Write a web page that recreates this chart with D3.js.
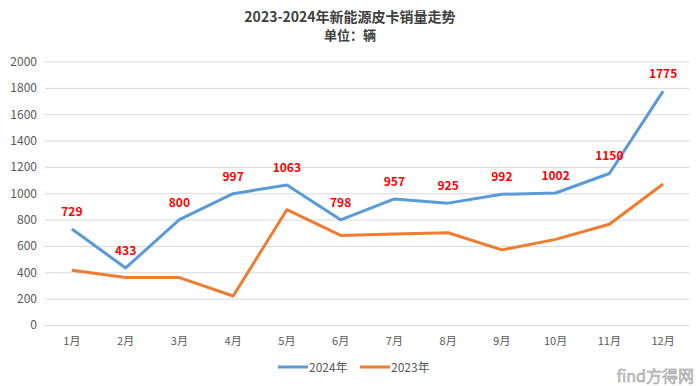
<!DOCTYPE html>
<html>
<head>
<meta charset="utf-8">
<script src="https://cdn.jsdelivr.net/npm/d3@7"></script>
<style>
  body { margin: 0; background: #fff; }
  svg text { font-family: "Noto Sans CJK SC", "Noto Sans", sans-serif; }
</style>
</head>
<body>
<svg id="chart"></svg>
<script>
var months = ["1月", "2月", "3月", "4月", "5月", "6月", "7月", "8月", "9月", "10月", "11月", "12月"];
var sales2024 = [729, 433, 800, 997, 1063, 798, 957, 925, 992, 1002, 1150, 1775];
var sales2023 = [415, 360, 360, 220, 875, 680, 690, 700, 570, 650, 765, 1070];
var yTicks = [0, 200, 400, 600, 800, 1000, 1200, 1400, 1600, 1800, 2000];
var seriesNames = ["2024年", "2023年"];

function drawChart() {
    var width = 700, height = 386;
    var margin = {top: 61.5, right: 10, bottom: 61, left: 45};
    var colors = ["#5B9BD5", "#ED7D31"];

    var svg = d3.select("#chart")
        .attr("width", width)
        .attr("height", height);

    var x = d3.scaleBand()
        .domain(months)
        .range([margin.left, width - margin.right]);

    var y = d3.scaleLinear()
        .domain([0, 2000])
        .range([height - margin.bottom, margin.top]);

    // title
    svg.append("text")
        .attr("x", 350).attr("y", 22)
        .attr("text-anchor", "middle")
        .style("font-size", "14px").style("font-weight", "bold")
        .attr("fill", "#404040")
        .text("2023-2024年新能源皮卡销量走势");
    svg.append("text")
        .attr("x", 350).attr("y", 40)
        .attr("text-anchor", "middle")
        .style("font-size", "13px").style("font-weight", "bold")
        .attr("fill", "#404040")
        .text("单位：辆");

    // grid + y axis
    var yAxis = svg.append("g")
        .attr("transform", "translate(" + margin.left + ",0)")
        .call(d3.axisLeft(y).tickValues(yTicks).tickFormat(d3.format("d"))
            .tickSize(-(width - margin.left - margin.right)).tickPadding(8));
    yAxis.select(".domain").remove();
    yAxis.selectAll(".tick line").attr("stroke", "#d9d9d9");
    yAxis.selectAll(".tick text").attr("fill", "#595959").style("font-size", "12px");

    // x axis
    var xAxis = svg.append("g")
        .attr("transform", "translate(0," + (height - margin.bottom) + ")")
        .call(d3.axisBottom(x).tickSize(0).tickPadding(12));
    xAxis.select(".domain").remove();
    xAxis.selectAll(".tick text").attr("fill", "#595959").style("font-size", "11px");

    var line = d3.line()
        .x(function(d, i) { return x(months[i]) + x.bandwidth() / 2; })
        .y(function(d) { return y(d); });

    [sales2023, sales2024].forEach(function(data, k) {
        svg.append("path")
            .datum(data)
            .attr("fill", "none")
            .attr("stroke", colors[1 - k])
            .attr("stroke-width", 3)
            .attr("stroke-linejoin", "round")
            .attr("d", line);
    });

    // data labels for 2024
    svg.selectAll(".label")
        .data(sales2024)
        .enter().append("text")
            .attr("class", "label")
            .attr("x", function(d, i) { return x(months[i]) + x.bandwidth() / 2; })
            .attr("y", function(d) { return y(d) - 13; })
            .attr("text-anchor", "middle")
            .attr("fill", "#FF0000")
            .style("font-size", "12px").style("font-weight", "bold")
            .text(function(d) { return d; });

    // legend
    var legend = svg.append("g").attr("transform", "translate(278,367)");
    seriesNames.forEach(function(name, i) {
        var g = legend.append("g").attr("transform", "translate(" + (i * 82) + ",0)");
        g.append("line")
            .attr("x1", 0).attr("x2", 30)
            .attr("stroke", colors[i]).attr("stroke-width", 3);
        g.append("text")
            .attr("x", 31).attr("y", 4.5)
            .attr("fill", "#595959")
            .style("font-size", "12px")
            .text(name);
    });

    // watermark
    svg.append("text")
        .attr("x", 694).attr("y", 382)
        .attr("text-anchor", "end")
        .attr("fill", "#d0d0d0")
        .attr("stroke", "#9a9a9a").attr("stroke-width", 0.5)
        .style("font-size", "16px")
        .text("find方得网");
}

drawChart();
</script>
</body>
</html>
